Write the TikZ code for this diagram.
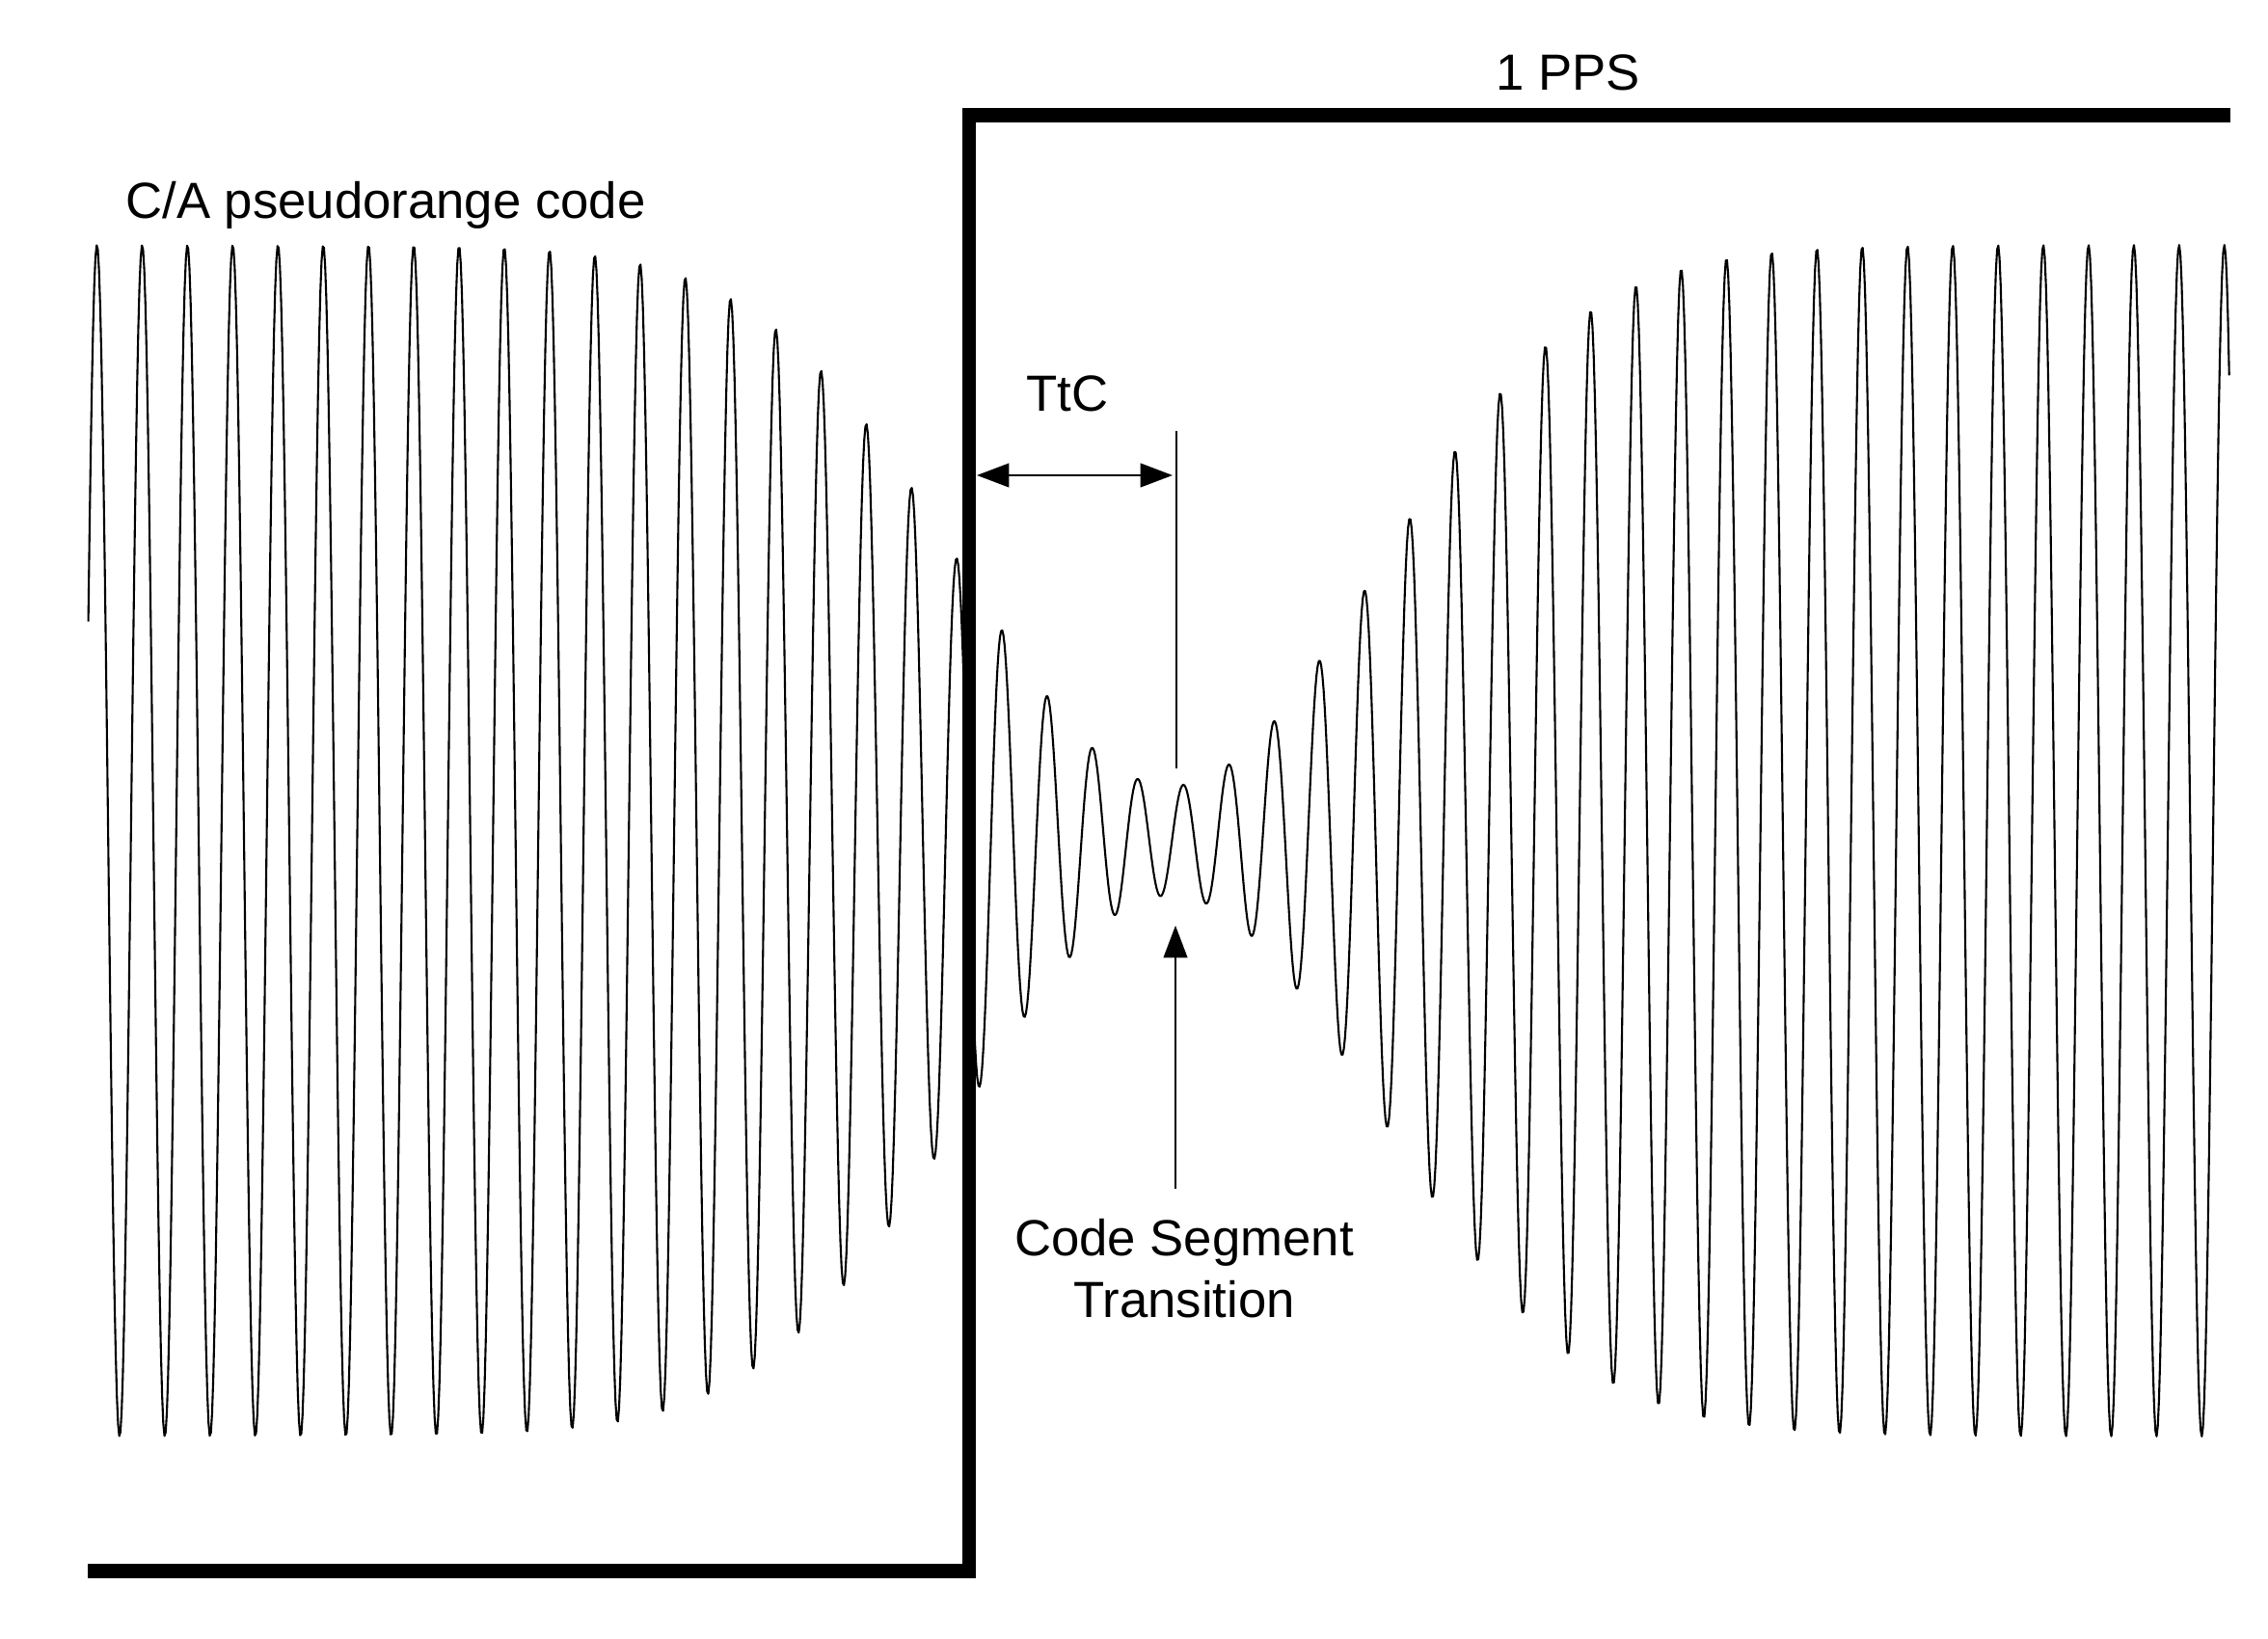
\documentclass[tikz,border=0pt]{standalone}
\usepackage{fontspec}
\setmainfont{Liberation Sans}
\usetikzlibrary{arrows.meta,positioning}

\tikzset{
    wave/.style={line width=0.6pt, line join=round},
    pulse/.style={line width=4.2pt},
    txt/.style={font=\fontsize{15}{18}\selectfont},
    ttcdim/.style={line width=0.7pt, {Triangle[length=9.5pt,width=7pt]}-{Triangle[length=9.5pt,width=7pt]}},
    uparrow/.style={line width=0.7pt, -{Triangle[length=9.5pt,width=7pt]}},
}

\begin{document}
\begin{tikzpicture}[declare function={env(\x)=6.18-5.61*exp(-((\x-12.14)/3)*((\x-12.14)/3));}]
        \useasboundingbox (0,0) rectangle (23.52,17);

        \draw[wave] plot[domain=-0.19:47.12, samples=1800, variable=\t]
            ({1.005+0.4694*\t}, {8.28+env(1.005+0.4694*\t)*cos(360*mod(\t,1))});

        \coordinate (lowL) at (0.91,0.705);
        \coordinate (edgeB) at (10.05,0.705);
        \coordinate (edgeT) at (10.05,15.805);
        \coordinate (highR) at (23.13,15.805);
        \draw[pulse] (lowL) -- (edgeB) -- (edgeT) -- (highR);

        \node[txt] (pps) at (16.26,16.25) {1 PPS};
        \node[txt, anchor=base] (calabel) at (4.00,14.73) {C/A pseudorange code};

        \coordinate (markT) at (12.20,12.53);
        \coordinate (markB) at (12.20,9.03);
        \draw[line width=0.6pt] (markT) -- (markB);

        \coordinate (ttcL) at (10.13,12.07);
        \coordinate (ttcR) at (12.16,12.07);
        \draw[ttcdim] (ttcL) -- (ttcR);
        \node[txt] (ttc) at (11.07,12.92) {TtC};

        \coordinate (cstip) at (12.19,7.40);
        \coordinate (cstail) at (12.19,4.67);
        \draw[uparrow] (cstail) -- (cstip);
        \node[txt, align=center, inner sep=0pt, below=0.31cm of cstail, xshift=0.09cm] (cst) {Code Segment\\Transition};
    \end{tikzpicture}
\end{document}
